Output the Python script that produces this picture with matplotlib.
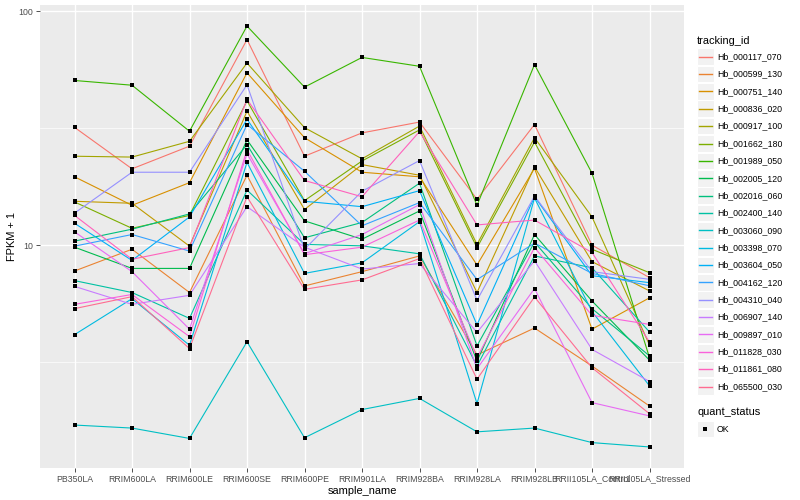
import numpy as np
import matplotlib
matplotlib.use("Agg")
import matplotlib.pyplot as plt
from matplotlib.patches import Rectangle
from matplotlib.lines import Line2D

plt.rcParams['font.family'] = ['Liberation Sans', 'DejaVu Sans']

# sample names on the x axis
samples = ["PB350LA", "RRIM600LA", "RRIM600LE", "RRIM600SE", "RRIM600PE", "RRIM901LA",
           "RRIM928BA", "RRIM928LA", "RRIM928LB", "RRII105LA_Control", "RRII105LA_Stressed"]

tracking_ids = ["Hb_000117_070", "Hb_000599_130", "Hb_000751_140", "Hb_000836_020",
                "Hb_000917_100", "Hb_001662_180", "Hb_001989_050", "Hb_002005_120",
                "Hb_002016_060", "Hb_002400_140", "Hb_003060_090", "Hb_003398_070",
                "Hb_003604_050", "Hb_004162_120", "Hb_004310_040", "Hb_006907_140",
                "Hb_009897_010", "Hb_011828_030", "Hb_011861_080", "Hb_065500_030"]

# FPKM + 1 per sample, in tracking_id order
pb350la = [31.9, 7.75, 19.6, 15.4, 24.0, 15.3, 50.6, 9.8, 10.4, 7.05, 1.70, 4.14, 12.4, 9.9, 13.7, 6.66, 11.4, 5.58, 13.4, 5.35]
rrim600la = [21.2, 9.6, 14.8, 15.1, 23.8, 11.8, 48.3, 7.95, 11.7, 6.27, 1.65, 5.9, 8.6, 11.1, 20.5, 5.58, 7.7, 6.15, 8.7, 6.02]
rrim600le = [26.5, 6.27, 18.5, 9.9, 27.8, 13.4, 30.7, 7.95, 13.6, 4.86, 1.49, 3.73, 13.2, 9.43, 20.5, 6.1, 4.37, 4.06, 9.76, 3.61]
rrim600se = [75.7, 19.9, 54.6, 37.4, 60.1, 41.4, 86.5, 28.2, 26.9, 17.2, 3.86, 22.6, 34.5, 32.8, 48.5, 14.6, 24.6, 25.6, 42.0, 16.1]
rrim600pe = [24.0, 6.69, 28.8, 14.2, 31.8, 15.5, 47.4, 12.7, 10.75, 10.07, 1.50, 7.57, 15.4, 20.7, 9.6, 9.8, 9.2, 9.1, 18.9, 6.47]
rrim901la = [30.2, 7.7, 20.5, 22.1, 23.4, 22.9, 63.5, 10.6, 12.5, 9.93, 1.98, 8.4, 14.6, 12.1, 17.0, 7.9, 11.1, 9.8, 16.1, 7.1]
rrim928ba = [33.6, 8.99, 19.6, 19.9, 32.3, 31.1, 58.2, 14.0, 18.4, 9.18, 2.21, 12.6, 17.1, 15.2, 23.0, 8.34, 14.9, 12.8, 30.6, 8.76]
rrim928la = [15.7, 3.39, 8.22, 6.27, 10.07, 9.75, 14.8, 3.19, 3.71, 3.04, 1.59, 2.10, 4.56, 7.12, 5.81, 4.23, 2.96, 3.3, 12.2, 2.67]
rrim928lb = [32.8, 4.42, 21.3, 21.6, 28.8, 27.6, 59.2, 11.1, 10.3, 8.99, 1.65, 15.9, 16.1, 10.2, 16.2, 8.57, 6.52, 9.76, 12.8, 6.0]
rrii105la_control = [10.0, 3.04, 4.37, 8.5, 13.2, 9.6, 20.3, 5.77, 5.35, 8.0, 1.43, 5.2, 7.4, 7.57, 7.7, 3.58, 2.12, 5.01, 9.3, 2.99]
rrii105la_stressed = [7.26, 2.05, 5.95, 6.37, 3.74, 7.62, 3.30, 3.22, 3.36, 4.25, 1.37, 2.50, 6.91, 6.70, 7.14, 2.61, 1.86, 4.58, 3.85, 1.90]

# ggplot hue palette, 20 levels
colors = ["#F8766D", "#EA8331", "#D89000", "#C09B00", "#A3A500", "#7CAE00", "#39B600",
          "#00BB4E", "#00BF7D", "#00C1A3", "#00BFC4", "#00BAE0", "#00B0F6", "#35A2FF",
          "#9590FF", "#C77CFF", "#E76BF3", "#FA62DB", "#FF62BC", "#FF6C91"]

values = np.array([pb350la, rrim600la, rrim600le, rrim600se, rrim600pe, rrim901la,
                   rrim928ba, rrim928la, rrim928lb, rrii105la_control, rrii105la_stressed]).T

fig = plt.figure(figsize=(8, 5), dpi=100)
ax = fig.add_axes([40 / 800, 1 - 468 / 500, 644 / 800, 463 / 500])
ax.set_facecolor("#EBEBEB")
for s in ax.spines.values():
    s.set_visible(False)

x = np.arange(len(samples))
for i, tid in enumerate(tracking_ids):
    ax.plot(x, values[i], color=colors[i], lw=0.8, zorder=3)
for i, tid in enumerate(tracking_ids):
    ax.plot(x, values[i], ls="none", marker="s", ms=2.3, mew=0, color="black", zorder=4)

ax.set_yscale("log")
lo, hi = np.log10(values.min()), np.log10(values.max())
pad = (hi - lo) * 0.05
ax.set_ylim(10 ** (lo - pad), 10 ** (hi + pad))
ax.set_xlim(-0.6, len(samples) - 0.4)

ax.set_yticks([10, 100])
ax.set_yticklabels(["10", "100"])
ax.yaxis.set_minor_locator(matplotlib.ticker.NullLocator())
ax.set_xticks(x)
ax.set_xticklabels(samples)

# gridlines like theme_grey
for yv in [10, 100]:
    ax.axhline(yv, color="white", lw=1.0, zorder=1)
for yv in [10 ** 0.5, 10 ** 1.5]:
    ax.axhline(yv, color="white", lw=0.5, zorder=1)
for xv in x:
    ax.axvline(xv, color="white", lw=1.0, zorder=1)

ax.tick_params(axis="both", colors="#333333", length=2.7, width=0.6,
               labelsize=6.3, labelcolor="#4D4D4D", pad=2)
ax.set_xlabel("sample_name", fontsize=7.9, labelpad=1.5)
ax.set_ylabel("FPKM + 1", fontsize=7.9)
ax.yaxis.set_label_coords(-23 / 644, 0.5)

# legend drawn in pixel coordinates
lg = fig.add_axes([0, 0, 1, 1], zorder=5)
lg.set_xlim(0, 800)
lg.set_ylim(500, 0)
lg.set_axis_off()
lg.text(697, 40.5, "tracking_id", fontsize=7.9, va="center", ha="left")
for i, tid in enumerate(tracking_ids):
    yc = 56.7 + i * 17.36
    lg.add_patch(Rectangle((697, yc - 8.3), 16.6, 16.6, facecolor="#F2F2F2", edgecolor="white", lw=0.8))
    lg.add_line(Line2D([698.5, 711.5], [yc, yc], color=colors[i], lw=1.0))
    lg.text(717, yc, tid, fontsize=6.3, va="center", ha="left")
lg.text(697, 412, "quant_status", fontsize=7.9, va="center", ha="left")
lg.add_patch(Rectangle((697, 429 - 8.3), 16.6, 16.6, facecolor="#F2F2F2", edgecolor="white", lw=0.8))
lg.add_line(Line2D([705], [429], ls="none", marker="s", ms=2.3, mew=0, color="black"))
lg.text(717, 429, "OK", fontsize=6.3, va="center", ha="left")

fig.savefig("out.png", dpi=100, facecolor="white")
